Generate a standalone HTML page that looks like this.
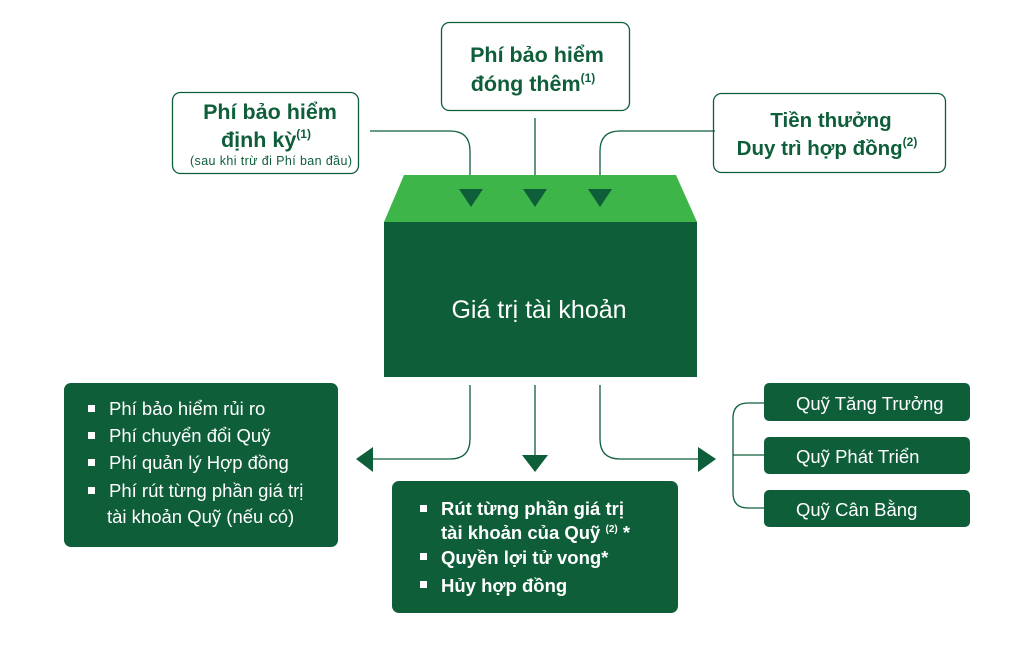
<!DOCTYPE html>
<html><head><meta charset="utf-8"><style>
html,body{margin:0;padding:0;background:#fff;}
svg{display:block;font-family:"Liberation Sans",sans-serif;}
</style></head><body>
<svg width="1026" height="645" viewBox="0 0 1026 645" xmlns="http://www.w3.org/2000/svg">
<g fill="none" stroke="#0f5e3a" stroke-width="1.3">
<rect x="172.5" y="92.5" width="186" height="81" rx="8"/>
<rect x="441.5" y="22.5" width="188" height="88" rx="8"/>
<rect x="713.5" y="93.5" width="232" height="79" rx="8"/>
<path d="M370 131 H450 Q470 131 470 151 V192"/>
<path d="M535 118 V192"/>
<path d="M715 131 H620 Q600 131 600 151 V192"/>
<path d="M470 385 V439 Q470 459 450 459 H370"/>
<path d="M535 385 V458"/>
<path d="M600 385 V439 Q600 459 620 459 H700"/>
<path d="M764 403 H748 Q733 403 733 418 V493 Q733 508 748 508 H764 M733 455 H764"/>
</g>
<polygon points="404,175 676,175 697,222 384,222" fill="#3db548"/>
<rect x="384" y="222" width="313" height="155" fill="#0f5e3a"/>
<g fill="#0f5e3a">
<polygon points="459,189 483,189 471,207"/>
<polygon points="523,189 547,189 535,207"/>
<polygon points="588,189 612,189 600,207"/>
<polygon points="356,459 373,447 373,472"/>
<polygon points="522,455 548,455 535,472"/>
<polygon points="716,459 698,447 698,472"/>
<rect x="64" y="383" width="274" height="164" rx="7"/>
<rect x="392" y="481" width="286" height="132" rx="7"/>
<rect x="764" y="383" width="206" height="38" rx="5"/>
<rect x="764" y="437" width="206" height="37" rx="5"/>
<rect x="764" y="490" width="206" height="37" rx="5"/>
</g>
<g fill="#0f5e3a" font-weight="bold" font-size="21.5" text-anchor="middle">
<text x="270" y="119">Phí bảo hiểm</text>
<text x="266" y="147">định kỳ<tspan font-size="12" dy="-9">(1)</tspan></text>
<text x="537" y="62">Phí bảo hiểm</text>
<text x="533" y="91">đóng thêm<tspan font-size="12" dy="-9">(1)</tspan></text>
</g>
<g fill="#0f5e3a" font-weight="bold" font-size="20.5" text-anchor="middle">
<text x="831" y="127">Tiền thưởng</text>
<text x="827" y="155">Duy trì hợp đồng<tspan font-size="12" dy="-9">(2)</tspan></text>
</g>
<text x="271" y="165" fill="#0f5e3a" font-size="12.5" text-anchor="middle" textLength="162">(sau khi trừ đi Phí ban đầu)</text>
<text x="539" y="318" fill="#fff" font-size="25" text-anchor="middle">Giá trị tài khoản</text>
<g fill="#fff" font-size="18.5">
<rect x="88" y="405" width="7" height="7"/><text x="109" y="415">Phí bảo hiểm rủi ro</text>
<rect x="88" y="432" width="7" height="7"/><text x="109" y="442">Phí chuyển đổi Quỹ</text>
<rect x="88" y="459" width="7" height="7"/><text x="109" y="469">Phí quản lý Hợp đồng</text>
<rect x="88" y="487" width="7" height="7"/><text x="109" y="497">Phí rút từng phần giá trị</text>
<text x="107" y="523">tài khoản Quỹ (nếu có)</text>
</g>
<g fill="#fff" font-size="18.5" font-weight="bold">
<rect x="420" y="505" width="7" height="7"/><text x="441" y="515">Rút  từng phần giá trị</text>
<text x="441" y="539">tài khoản của Quỹ <tspan font-size="10" dy="-7">(2)</tspan><tspan dy="7"> *</tspan></text>
<rect x="420" y="553" width="7" height="7"/><text x="441" y="564">Quyền lợi tử vong*</text>
<rect x="420" y="581" width="7" height="7"/><text x="441" y="592">Hủy hợp đồng</text>
</g>
<g fill="#fff" font-size="18.5">
<text x="796" y="410">Quỹ Tăng Trưởng</text>
<text x="796" y="463">Quỹ Phát Triển</text>
<text x="796" y="516">Quỹ Cân Bằng</text>
</g>
</svg>
</body></html>
